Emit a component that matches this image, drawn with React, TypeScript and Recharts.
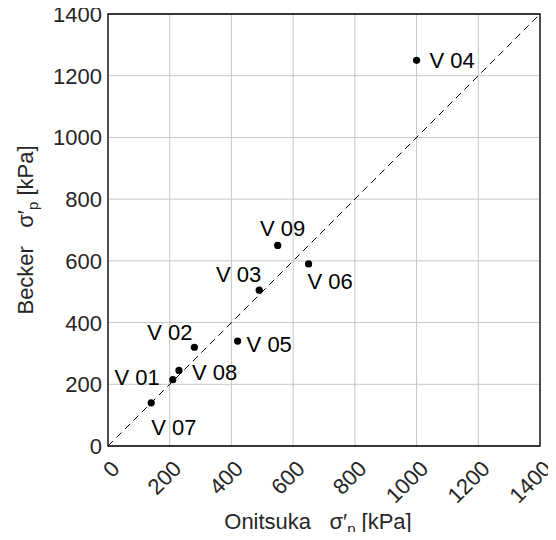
import React from "react";
import {
  ScatterChart,
  Scatter,
  XAxis,
  YAxis,
  CartesianGrid,
  ReferenceLine,
  ReferenceArea,
  LabelList,
} from "recharts";

// preconsolidation pressure, Onitsuka vs. Becker method
const sampleIds = ["V 01", "V 02", "V 03", "V 04", "V 05", "V 06", "V 07", "V 08", "V 09"];
const onitsuka = [210, 280, 490, 1000, 420, 650, 140, 230, 550];
const becker = [215, 320, 505, 1250, 340, 590, 140, 245, 650];
const axisTicks = [0, 200, 400, 600, 800, 1000, 1200, 1400];

const points = sampleIds.map((id, i) => ({ id, x: onitsuka[i], y: becker[i] }));

// where each sample label sits relative to its dot
const labelPlacement: Record<string, { dx: number; dy: number; anchor: "start" | "middle" | "end" }> = {
  "V 01": { dx: -13, dy: 5, anchor: "end" },
  "V 02": { dx: -2, dy: -7, anchor: "end" },
  "V 03": { dx: 2, dy: -8, anchor: "end" },
  "V 04": { dx: 13, dy: 8, anchor: "start" },
  "V 05": { dx: 9, dy: 11, anchor: "start" },
  "V 06": { dx: -1, dy: 25, anchor: "start" },
  "V 07": { dx: 0, dy: 32, anchor: "start" },
  "V 08": { dx: 13, dy: 10, anchor: "start" },
  "V 09": { dx: 5, dy: -9, anchor: "middle" },
};

const FONT = "'Liberation Sans', Arial, sans-serif";
const TEXT = "#262626";
const FS = 22;

const XTick = ({ x, y, payload }: any) => {
  const ax = x + 13;
  const ay = y + 24;
  return (
    <text
      x={ax}
      y={ay}
      transform={`rotate(-45, ${ax}, ${ay})`}
      textAnchor="end"
      fontSize={FS}
      fontFamily={FONT}
      fill={TEXT}
    >
      {payload.value}
    </text>
  );
};

const YTick = ({ x, y, payload }: any) => (
  <text x={x - 6} y={y + 8} textAnchor="end" fontSize={FS} fontFamily={FONT} fill={TEXT}>
    {payload.value}
  </text>
);

const SampleLabel = (props: any) => {
  const { x, y, width, height, value } = props;
  const cx = x + width / 2;
  const cy = y + height / 2;
  const p = labelPlacement[value] ?? { dx: 8, dy: 6, anchor: "start" };
  return (
    <text
      x={cx + p.dx}
      y={cy + p.dy}
      textAnchor={p.anchor}
      fontSize={FS}
      fontFamily={FONT}
      fill="#000"
    >
      {value}
    </text>
  );
};

const Dot = (props: any) => <circle cx={props.cx} cy={props.cy} r={3.6} fill="#000" />;

export default function App() {
  return (
    <div style={{ margin: -8, width: 556, height: 540, background: "#fff" }}>
      <ScatterChart width={556} height={540} margin={{ top: 14, right: 16, bottom: 0, left: 8 }}>
        <CartesianGrid stroke="#c6c6c6" strokeWidth={1} horizontalValues={axisTicks} verticalValues={axisTicks} />
        <XAxis
          type="number"
          dataKey="x"
          domain={[0, 1400]}
          ticks={axisTicks}
          height={94}
          tickLine={false}
          tickSize={0}
          tickMargin={0}
          axisLine={false}
          tick={<XTick />}
          interval={0}
        />
        <YAxis
          type="number"
          dataKey="y"
          domain={[0, 1400]}
          ticks={axisTicks}
          width={100}
          tickLine={false}
          tickSize={0}
          tickMargin={0}
          axisLine={false}
          tick={<YTick />}
          interval={0}
        />
        <ReferenceArea x1={0} x2={1400} y1={0} y2={1400} fill="none" stroke="#000" strokeWidth={1.3} ifOverflow="visible" />
        <ReferenceLine
          segment={[{ x: 0, y: 0 }, { x: 1400, y: 1400 }]}
          stroke="#000"
          strokeWidth={1}
          strokeDasharray="7 5"
        />
        <Scatter data={points} shape={<Dot />} isAnimationActive={false}>
          <LabelList dataKey="id" content={<SampleLabel />} />
        </Scatter>
        <text
          x={33}
          y={230}
          transform="rotate(-90, 33, 230)"
          textAnchor="middle"
          fontSize={FS}
          fontFamily={FONT}
          fill={TEXT}
        >
          {"Becker\u00a0\u00a0\u00a0σ′"}
          <tspan fontSize={15} dy={5}>p</tspan>
          <tspan dy={-5}>{"\u00a0[kPa]"}</tspan>
        </text>
        <text x={318} y={529} textAnchor="middle" fontSize={FS} fontFamily={FONT} fill={TEXT}>
          {"Onitsuka\u00a0\u00a0\u00a0σ′"}
          <tspan fontSize={15} dy={5}>p</tspan>
          <tspan dy={-5}>{"\u00a0[kPa]"}</tspan>
        </text>
      </ScatterChart>
    </div>
  );
}
